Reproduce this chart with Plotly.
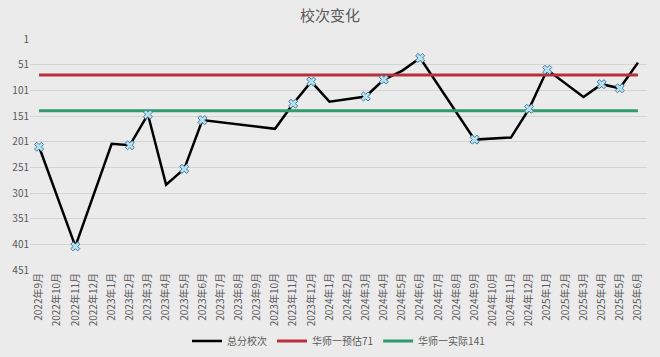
import plotly.graph_objects as go

months = ["2022年9月", "2022年10月", "2022年11月", "2022年12月",
          "2023年1月", "2023年2月", "2023年3月", "2023年4月", "2023年5月", "2023年6月",
          "2023年7月", "2023年8月", "2023年9月", "2023年10月", "2023年11月", "2023年12月",
          "2024年1月", "2024年2月", "2024年3月", "2024年4月", "2024年5月", "2024年6月",
          "2024年7月", "2024年8月", "2024年9月", "2024年10月", "2024年11月", "2024年12月",
          "2025年1月", "2025年2月", "2025年3月", "2025年4月", "2025年5月", "2025年6月"]

rank = [211, None, 405, None,
        205, 208, 148, 285, 254, 159,
        None, None, None, 176, 127, 84,
        123, None, 113, 80, 63, 38,
        None, None, 197, None, 193, 137,
        61, None, 114, 89, 97, 47]

marked = [1, 0, 1, 0,
          0, 1, 1, 0, 1, 1,
          0, 0, 0, 0, 1, 1,
          0, 0, 1, 1, 0, 1,
          0, 0, 1, 0, 0, 1,
          1, 0, 0, 1, 1, 0]

est_value = 71
act_value = 141
yticks = [1, 51, 101, 151, 201, 251, 301, 351, 401, 451]

font_family = "Noto Sans CJK SC, Noto Sans, sans-serif"

fig = go.Figure()

fig.add_trace(go.Scatter(
    x=months, y=rank, mode="lines", name="总分校次", connectgaps=True,
    line=dict(color="#000000", width=2.5), legendrank=1))
fig.add_trace(go.Scatter(
    x=months, y=[est_value] * len(months), mode="lines", name="华师一预估71",
    line=dict(color="#b8313a", width=3), legendrank=2))
fig.add_trace(go.Scatter(
    x=months, y=[act_value] * len(months), mode="lines", name="华师一实际141",
    line=dict(color="#2f9a6c", width=3), legendrank=3))
fig.add_trace(go.Scatter(
    x=months, y=[v if m else None for v, m in zip(rank, marked)], mode="markers",
    showlegend=False, hoverinfo="skip",
    marker=dict(symbol="x", size=8, color="#bfe0ee", line=dict(color="#3b7ea1", width=1))))

fig.update_layout(
    width=660, height=357,
    paper_bgcolor="#ebebeb", plot_bgcolor="#ebebeb",
    margin=dict(l=30, r=13, t=39, b=87, autoexpand=False),
    font=dict(family=font_family, size=10, color="#595959"),
    title=dict(text="校次变化", x=0.5, xanchor="center", y=1 - 16 / 357, yanchor="middle",
               font=dict(size=15, color="#595959")),
    showlegend=True,
    legend=dict(orientation="h", x=0.5, xanchor="center", y=1 - 341 / 357, yref="container",
                yanchor="middle", font=dict(size=10, color="#595959"),
                bgcolor="rgba(0,0,0,0)", traceorder="normal"),
)
fig.update_xaxes(type="category", tickangle=-90, showgrid=False, showline=False, automargin=False,
                 ticks="", tickfont=dict(size=10), range=[-0.5, len(months) - 0.5])
fig.update_yaxes(range=[451, 1], tickvals=yticks, ticktext=[str(v) for v in yticks], automargin=False,
                 showgrid=True, gridcolor="#d4d4d4", gridwidth=1, zeroline=False,
                 showline=False, ticks="", tickfont=dict(size=10))

fig.write_html("out.html", config={"displayModeBar": False},
               post_script="document.body.style.margin='0';document.body.style.background='#ebebeb';")
